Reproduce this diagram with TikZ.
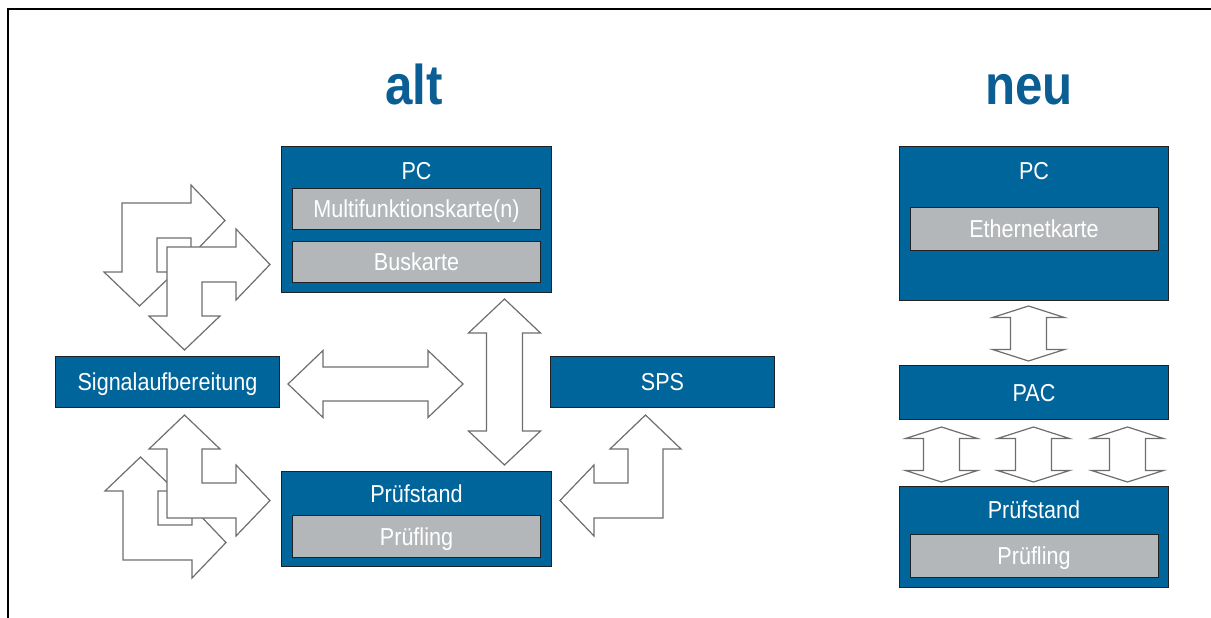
\documentclass[tikz,border=0pt]{standalone}
\usepackage{fontspec}
\setmainfont{Liberation Sans}[FakeStretch=0.88]
\usepackage{xcolor}
\usepackage{tikz}
\usetikzlibrary{calc}
\definecolor{boxblue}{HTML}{00659B}
\definecolor{cardgray}{HTML}{B4B7B9}
\definecolor{edge}{HTML}{1E2226}
\definecolor{ttlblue}{HTML}{0B5E93}
\definecolor{arrowgray}{HTML}{6E6E6E}
\newcommand{\labfont}{\fontsize{24.5}{28}\selectfont}
\newcommand{\ttlfont}{\fontsize{56}{60}\selectfont\bfseries}
\tikzset{
  box/.style={draw=edge, fill=boxblue, line width=1pt, inner sep=0pt, anchor=north west,
    text=white, font=\labfont, text height=17.5pt, text depth=0pt},
  card/.style={draw=edge, fill=cardgray, line width=1pt, inner sep=0pt, anchor=north,
    minimum width=248pt, text=white, font=\labfont, text height=17.5pt, text depth=0pt},
  lab/.style={text=white, font=\labfont, inner sep=0pt, anchor=base},
  ttl/.style={text=ttlblue, font=\ttlfont, inner sep=0pt, anchor=base},
  blk/.style={draw=arrowgray, fill=white, line width=1.2pt},
  frame/.style={draw=black, line width=2pt}
}
% block arrows: tip, tip, shaft half width, head half width, head length
\newcommand{\VArrow}[5]{%
  \draw[blk] (#1) -- ($(#1)+(-#4,#5)$) -- ($(#1)+(-#3,#5)$) -- ($(#2)+(-#3,-#5)$)
    -- ($(#2)+(-#4,-#5)$) -- (#2) -- ($(#2)+(#4,-#5)$) -- ($(#2)+(#3,-#5)$)
    -- ($(#1)+(#3,#5)$) -- ($(#1)+(#4,#5)$) -- cycle;
}
\newcommand{\HArrow}[5]{%
  \draw[blk] (#1) -- ($(#1)+(#5,-#4)$) -- ($(#1)+(#5,-#3)$) -- ($(#2)+(-#5,-#3)$)
    -- ($(#2)+(-#5,-#4)$) -- (#2) -- ($(#2)+(-#5,#4)$) -- ($(#2)+(-#5,#3)$)
    -- ($(#1)+(#5,#3)$) -- ($(#1)+(#5,#4)$) -- cycle;
}
% bent arrow, outer corner at #2
\newcommand{\LArrow}[2]{%
  \begin{scope}[shift={(#2)},#1]
    \draw[blk] (0,0) -- (69,0) -- (69,-18) -- (103,17.5) -- (69,53) -- (69,35) -- (35,35)
      -- (35,69) -- (53,69) -- (17.5,103) -- (-18,69) -- (0,69) -- cycle;
  \end{scope}
}

\begin{document}
\begin{tikzpicture}[x=1pt,y=-1pt]
  \useasboundingbox (0,0) rectangle (1211,618);
  \draw[frame] (8,618) -- (8,9) -- (1211,9);

  \node[ttl] (alt) at (414,104) {alt};
  \node[ttl] (neu) at (1029,104) {neu};

  % alt
  \node[box, minimum width=270pt, minimum height=146pt] (pcA) at (281,146) {};
  \node[lab] (pcAt) at ($(pcA.north)+(0,33)$) {PC};
  \node[card, minimum height=41pt] (mfk) at ($(pcA.north)+(0,42)$) {Multifunktionskarte(n)};
  \node[card, minimum height=41pt] (bus) at ($(mfk.south)+(0,11)$) {Buskarte};

  \node[box, minimum width=224pt, minimum height=51pt] (sig) at (55,356) {Signalaufbereitung};
  \node[box, minimum width=224pt, minimum height=51pt] (sps) at (550,356) {SPS};

  \node[box, minimum width=270pt, minimum height=95pt] (pstA) at (281,471) {};
  \node[lab] (pstAt) at ($(pstA.north)+(0,31)$) {Prüfstand};
  \node[card, minimum height=42pt] (plA) at ($(pstA.north)+(0,44)$) {Prüfling};

  % neu
  \node[box, minimum width=269pt, minimum height=154pt] (pcB) at (899,146) {};
  \node[lab] (pcBt) at ($(pcB.north)+(0,33)$) {PC};
  \node[card, minimum height=43pt] (eth) at ($(pcB.north)+(0,61)$) {Ethernetkarte};

  \node[box, minimum width=269pt, minimum height=54pt] (pac) at (899,365) {PAC};

  \node[box, minimum width=269pt, minimum height=101pt] (pstB) at (899,486) {};
  \node[lab] (pstBt) at ($(pstB.north)+(0,32)$) {Prüfstand};
  \node[card, minimum height=43pt] (plB) at ($(pstB.north)+(0,48)$) {Prüfling};

  % arrows alt
  \coordinate (hL) at ($(sig.east)+(8,2)$);
  \coordinate (hR) at (463,384);
  \HArrow{hL}{hR}{17}{33.5}{35}
  \coordinate (vT) at ($(pcA.south)+(88,6)$);
  \coordinate (vB) at ($(pstA.north)+(88,-6)$);
  \VArrow{vT}{vB}{18}{36}{34}

  \LArrow{}{122,203}
  \LArrow{}{167,247}
  \LArrow{yscale=-1}{123,560}
  \LArrow{yscale=-1}{167,518}
  \LArrow{rotate=180}{663,518}

  % arrows neu
  \coordinate (nT) at ($(pcB.south)+(-5.5,5)$);
  \coordinate (nB) at ($(pac.north)+(-5.5,-4)$);
  \VArrow{nT}{nB}{18}{36}{11.5}
  \foreach \dx [count=\i] in {-92.5,-0.5,93.5} {
    \coordinate (pT\i) at ($(pac.south)+(\dx,7)$);
    \coordinate (pB\i) at ($(pstB.north)+(\dx,-4)$);
    \VArrow{pT\i}{pB\i}{18}{36}{11.5}
  }
\end{tikzpicture}
\end{document}
